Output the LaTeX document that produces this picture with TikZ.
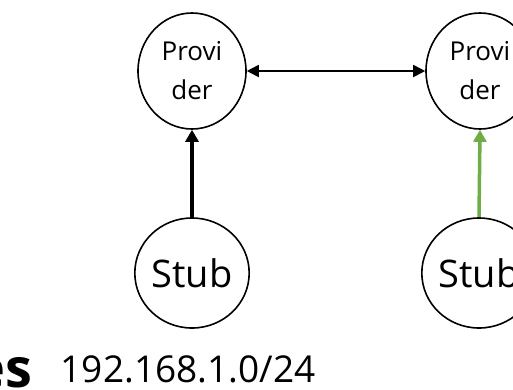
\documentclass[tikz,border=0pt]{standalone}
\usepackage{fontspec}
\setmainfont{Open Sans}
\usepackage{xcolor}
\usepackage{tikz}
\usetikzlibrary{shapes.geometric,arrows.meta}
\definecolor{linkgreen}{RGB}{112,173,71}

\begin{document}
\begin{tikzpicture}[x=1pt, y=-1pt,
  every node/.style={ellipse, draw, line width=1.6pt, inner sep=0pt, fill=white},
  prov/.style={minimum width=108pt, minimum height=116pt, align=center, font=\fontsize{26}{39}\selectfont},
  stub/.style={minimum width=108pt, minimum height=110pt, font=\fontsize{38}{40}\selectfont},
  txt/.style={draw=none, fill=none, rectangle, inner sep=0pt}]
\useasboundingbox (0,0) rectangle (513,389);
\clip (0,0) rectangle (513,389);
% Points
\node[prov] (pl) at (192,71) {Provi\\der};
\node[prov] (pr) at (480,71) {Provi\\der};
\node[stub] (sl) at (192,273) {Stub};
\node[stub] (sr) at (479,273) {Stub};

%Lines
\draw[line width=1.8pt, {Triangle[length=12pt,width=12pt]}-{Triangle[length=12pt,width=12pt]}] (pl) -- (pr);
\draw[line width=3.5pt, -{Triangle[length=12pt,width=13pt]}] (sl) -- (pl);
\draw[line width=3.5pt, linkgreen, -{Triangle[length=12pt,width=13pt]}] (sr.north) -- (pr.south);

% Text
\node[txt, anchor=base west, font=\fontsize{37}{40}\selectfont] (net) at (60,382) {192.168.1.0/24};
\node[txt, anchor=base east, font=\fontsize{54}{60}\selectfont\bfseries] (es) at (33,387) {es};
\end{tikzpicture}
\end{document}
